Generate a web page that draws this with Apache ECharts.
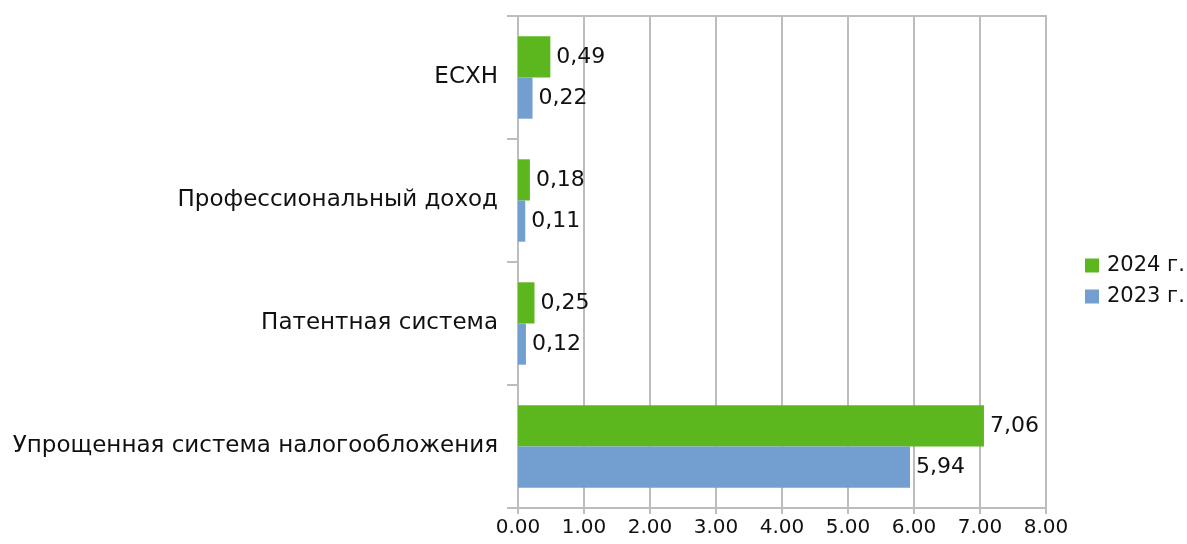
<!DOCTYPE html>
<html>
<head>
<meta charset="utf-8">
<script src="https://cdn.jsdelivr.net/npm/echarts@6/dist/echarts.min.js"></script>
<style>
html,body{margin:0;padding:0;background:#fff;}
#chart{width:1187px;height:544px;}
</style>
</head>
<body>
<div id="chart"></div>
<script>
const categories = ['Упрощенная система налогообложения', 'Патентная система', 'Профессиональный доход', 'ЕСХН'];
const values2023 = [5.94, 0.12, 0.11, 0.22];
const values2024 = [7.06, 0.25, 0.18, 0.49];
const seriesNames = ['2024 г.', '2023 г.'];

const FONT = '"DejaVu Sans", sans-serif';
const TEXT = '#111111';
const GRID = '#bdbdbd';

const chart = echarts.init(document.getElementById('chart'), null, {renderer: 'canvas'});

const labelCfg = {
  show: true,
  position: 'right',
  distance: 6,
  color: TEXT,
  fontFamily: FONT,
  fontSize: 22,
  formatter: p => p.value.toFixed(2).replace('.', ',')
};

chart.setOption({
  animation: false,
  backgroundColor: '#ffffff',
  grid: {left: 518, right: 141, top: 16, bottom: 36, containLabel: false,
         show: true, borderColor: GRID, borderWidth: 2},
  legend: {
    data: seriesNames,
    orient: 'vertical',
    left: 1080,
    top: 250,
    itemWidth: 14,
    itemHeight: 14,
    itemGap: 10,
    icon: 'rect',
    textStyle: {color: TEXT, fontFamily: FONT, fontSize: 21, padding: [0, 0, 0, 3]}
  },
  xAxis: {
    type: 'value',
    min: 0, max: 8, interval: 1,
    axisLine: {show: true, lineStyle: {color: GRID, width: 2}},
    axisTick: {show: true, length: 6, lineStyle: {color: GRID, width: 2}},
    splitLine: {show: true, lineStyle: {color: GRID, width: 2}},
    axisLabel: {color: TEXT, fontFamily: FONT, fontSize: 20, margin: 10,
                formatter: v => v.toFixed(2)}
  },
  yAxis: {
    type: 'category',
    data: categories,
    axisLine: {show: true, lineStyle: {color: GRID, width: 2}},
    axisTick: {show: true, length: 11, lineStyle: {color: GRID, width: 2}},
    axisLabel: {color: TEXT, fontFamily: FONT, fontSize: 23, margin: 20}
  },
  series: [
    {name: '2024 г.', type: 'bar', data: values2024, barGap: '0%', barCategoryGap: '33%',
     itemStyle: {color: '#5cb71e'}, label: labelCfg},
    {name: '2023 г.', type: 'bar', data: values2023, barGap: '0%', barCategoryGap: '33%',
     itemStyle: {color: '#729fcf'}, label: labelCfg}
  ]
});
</script>
</body>
</html>
